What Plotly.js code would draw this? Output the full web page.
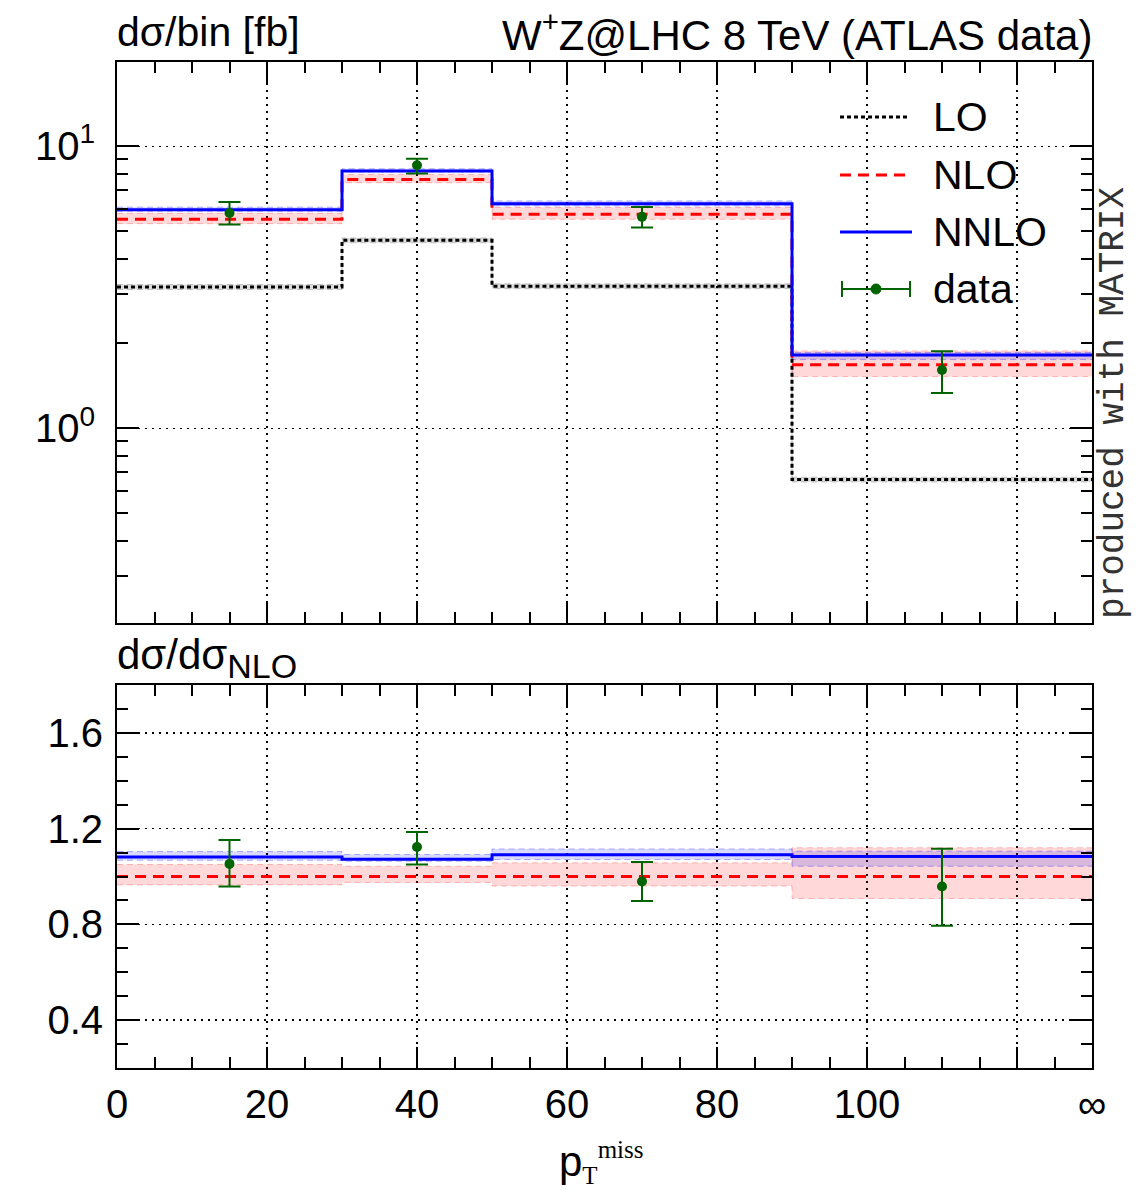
<!DOCTYPE html>
<html>
<head>
<meta charset="utf-8">
<script src="https://cdn.plot.ly/plotly-3.0.1.min.js"></script>
<style>html,body{margin:0;padding:0;background:#fff;}</style>
</head>
<body>
<div id="chart" style="width:1140px;height:1200px;"></div>
<script>
// ---------- data ----------
const binEdges = [0, 30, 50, 90, 130];          // last edge drawn as "infinity"
const xTickVals = [0, 20, 40, 60, 80, 100, 120, 130];
const xTickText = ['0', '20', '40', '60', '80', '100', '', '\u221E'];

const LO   = [3.17, 4.64, 3.19, 0.658];
const NLO  = [5.51, 7.62, 5.74, 1.68];
const NNLO = [5.96, 8.17, 6.26, 1.82];

// scale-uncertainty bands, relative to NLO central value
const loBandLo   = [0.98, 0.98, 0.98, 0.98];
const loBandHi   = [1.02, 1.02, 1.02, 1.02];
const nloBandLo  = [0.965, 0.975, 0.960, 0.908];
const nloBandHi  = [1.050, 1.043, 1.057, 1.120];
const nnloBandLo = [1.068, 1.064, 1.071, 1.043];
const nnloBandHi = [1.104, 1.092, 1.115, 1.106];

const dataX  = [15, 40, 70, 110];
const dataY  = [5.80, 8.56, 5.62, 1.61];
const dataHi = [6.35, 9.04, 6.09, 1.875];
const dataLo = [5.28, 8.00, 5.15, 1.334];

// ---------- helpers ----------
const step = v => v.concat([v[v.length - 1]]);
const mul = (a, b) => a.map((x, i) => x * b[i]);
const div = (a, b) => a.map((x, i) => x / b[i]);

const RED = 'rgb(255,0,0)', BLUE = 'rgb(0,0,255)', GREEN = 'rgb(0,100,0)';
const redFill = 'rgba(255,0,0,0.15)', blueFill = 'rgba(0,0,255,0.15)', grayFill = 'rgba(0,0,0,0.13)';

function band(lo, hi, xa, ya, fill, edge) {
  return [
    {x: binEdges, y: step(lo), xaxis: xa, yaxis: ya, mode: 'lines', line: {shape: 'hv', width: 1, color: edge, dash: '6px,4px'}, hoverinfo: 'skip', showlegend: false},
    {x: binEdges, y: step(hi), xaxis: xa, yaxis: ya, mode: 'lines', fill: 'tonexty', fillcolor: fill, line: {shape: 'hv', width: 1, color: edge, dash: '6px,4px'}, hoverinfo: 'skip', showlegend: false}
  ];
}
function stepLine(v, xa, ya, color, dash, width) {
  return {x: binEdges, y: step(v), xaxis: xa, yaxis: ya, mode: 'lines', line: {shape: 'hv', color: color, dash: dash, width: width}, showlegend: false};
}
function dataTrace(y, hi, lo, xa, ya) {
  return {x: dataX, y: y, xaxis: xa, yaxis: ya, mode: 'markers', showlegend: false,
    marker: {color: GREEN, size: 10},
    error_y: {type: 'data', symmetric: false, array: hi.map((h, i) => h - y[i]), arrayminus: lo.map((l, i) => y[i] - l), color: GREEN, thickness: 2, width: 11}};
}

// top panel
const edgeRed = 'rgba(255,0,0,0.25)', edgeBlue = 'rgba(0,0,255,0.3)', edgeGray = 'rgba(0,0,0,0.2)';
let traces = [];
traces = traces.concat(band(mul(LO, loBandLo), mul(LO, loBandHi), 'x', 'y', grayFill, edgeGray));
traces = traces.concat(band(mul(NLO, nloBandLo), mul(NLO, nloBandHi), 'x', 'y', redFill, edgeRed));
traces = traces.concat(band(mul(NLO, nnloBandLo), mul(NLO, nnloBandHi), 'x', 'y', blueFill, edgeBlue));
traces.push(stepLine(LO, 'x', 'y', 'black', '4px,3px', 3));
traces.push(stepLine(NLO, 'x', 'y', RED, '11px,7px', 3));
traces.push(stepLine(NNLO, 'x', 'y', BLUE, 'solid', 3));
traces.push(dataTrace(dataY, dataHi, dataLo, 'x', 'y'));

// ratio panel
traces = traces.concat(band(nloBandLo, nloBandHi, 'x2', 'y2', redFill, edgeRed));
traces = traces.concat(band(nnloBandLo, nnloBandHi, 'x2', 'y2', blueFill, edgeBlue));
traces.push(stepLine(div(NLO, NLO), 'x2', 'y2', RED, '11px,7px', 3));
traces.push(stepLine(div(NNLO, NLO), 'x2', 'y2', BLUE, 'solid', 3));
traces.push(dataTrace(div(dataY, NLO), div(dataHi, NLO), div(dataLo, NLO), 'x2', 'y2'));

// ---------- layout ----------
const W = 1140, H = 1200, L = 117, R = 48, T = 62, B = 132;
const plotW = W - L - R, plotH = H - T - B;
const px = x => (x - L) / plotW;
const py = y => (H - B - y) / plotH;

const GRIDDASH = '2px,5px';
const xMinor = [5, 10, 15, 25, 30, 35, 45, 50, 55, 65, 70, 75, 85, 90, 95, 105, 110, 115, 125];
const xBase = {
  range: [0, 130], tickmode: 'array', tickvals: xTickVals, ticks: 'inside', ticklen: 21, tickwidth: 2, tickcolor: 'black',
  showline: true, linewidth: 2, linecolor: 'black', mirror: 'ticks', zeroline: false,
  showgrid: true, gridcolor: 'black', griddash: GRIDDASH, gridwidth: 1.5,
  minor: {tickmode: 'array', tickvals: xMinor, ticks: 'inside', ticklen: 11, tickwidth: 2, tickcolor: 'black', showgrid: false}
};

const layout = {
  width: W, height: H,
  margin: {l: L, r: R, t: T, b: B},
  paper_bgcolor: 'white', plot_bgcolor: 'white',
  font: {family: 'Liberation Sans, Arial, sans-serif', size: 40, color: 'black'},
  showlegend: false,
  xaxis: Object.assign({}, xBase, {domain: [0, 1], anchor: 'y', showticklabels: false}),
  xaxis2: Object.assign({}, xBase, {domain: [0, 1], anchor: 'y2', showticklabels: true, ticktext: xTickText, tickfont: {size: 40}}),
  yaxis: {
    domain: [py(623), 1], anchor: 'x', type: 'log', range: [Math.log10(0.204), Math.log10(19.9)],
    tickmode: 'array', tickvals: [1, 10], ticktext: ['10<sup>0</sup>', '10<sup>1</sup>'], tickfont: {size: 40},
    ticklabelstandoff: 12,
    ticks: 'inside', ticklen: 22, tickwidth: 2, tickcolor: 'black',
    showline: true, linewidth: 2, linecolor: 'black', mirror: 'ticks', zeroline: false,
    showgrid: true, gridcolor: 'black', griddash: GRIDDASH, gridwidth: 1.5,
    minor: {tickmode: 'array', tickvals: [0.3, 0.4, 0.5, 0.6, 0.7, 0.8, 0.9, 2, 3, 4, 5, 6, 7, 8, 9], ticks: 'inside', ticklen: 11, tickwidth: 2, tickcolor: 'black', showgrid: false}
  },
  yaxis2: {
    domain: [0, py(685)], anchor: 'x2', range: [0.2, 1.8],
    tickmode: 'array', tickvals: [0.4, 0.8, 1.2, 1.6], ticktext: ['0.4', '0.8', '1.2', '1.6'], tickfont: {size: 40},
    ticklabelstandoff: 4,
    ticks: 'inside', ticklen: 22, tickwidth: 2, tickcolor: 'black',
    showline: true, linewidth: 2, linecolor: 'black', mirror: 'ticks', zeroline: false,
    showgrid: true, gridcolor: 'black', griddash: GRIDDASH, gridwidth: 1.5,
    minor: {tickmode: 'array', tickvals: [0.3, 0.5, 0.6, 0.7, 0.9, 1.0, 1.1, 1.3, 1.4, 1.5, 1.7], ticks: 'inside', ticklen: 11, tickwidth: 2, tickcolor: 'black', showgrid: false}
  },
  annotations: [
    {xref: 'paper', yref: 'paper', x: px(115), y: py(32), xanchor: 'left', yanchor: 'middle', showarrow: false, text: 'd\u03C3/bin [fb]', font: {size: 41}},
    {xref: 'paper', yref: 'paper', x: px(1094), y: py(32), xanchor: 'right', yanchor: 'middle', showarrow: false, text: 'W<sup>+</sup>Z@LHC 8 TeV (ATLAS data)', font: {size: 42}},
    {xref: 'paper', yref: 'paper', x: px(115), y: py(658), xanchor: 'left', yanchor: 'middle', showarrow: false,
     text: 'd\u03C3/d\u03C3<sub><span style="font-size:34px">NLO</span></sub>', font: {size: 42}},
    {xref: 'paper', yref: 'paper', x: px(601), y: py(1162), xanchor: 'center', yanchor: 'middle', showarrow: false,
     text: 'p<sub><span style="font-family:Liberation Serif;font-size:25px">T</span></sub><sup><span style="font-family:Liberation Serif;font-size:25px">miss</span></sup>', font: {size: 42}},
    {xref: 'paper', yref: 'paper', x: px(1113), y: py(403), xanchor: 'center', yanchor: 'middle', showarrow: false, textangle: -90,
     text: 'produced with MATRIX', font: {family: 'Liberation Mono, monospace', size: 36, color: '#333'}},
    // legend labels
    {xref: 'paper', yref: 'paper', x: px(931), y: py(117), xanchor: 'left', yanchor: 'middle', showarrow: false, text: 'LO', font: {size: 41}},
    {xref: 'paper', yref: 'paper', x: px(931), y: py(175), xanchor: 'left', yanchor: 'middle', showarrow: false, text: 'NLO', font: {size: 41}},
    {xref: 'paper', yref: 'paper', x: px(931), y: py(232), xanchor: 'left', yanchor: 'middle', showarrow: false, text: 'NNLO', font: {size: 41}},
    {xref: 'paper', yref: 'paper', x: px(931), y: py(289), xanchor: 'left', yanchor: 'middle', showarrow: false, text: 'data', font: {size: 41}}
  ],
  shapes: [
    // legend samples
    {type: 'line', xref: 'paper', yref: 'paper', x0: px(840), x1: px(908), y0: py(117), y1: py(117), line: {color: 'black', width: 3, dash: '4px,3px'}},
    {type: 'line', xref: 'paper', yref: 'paper', x0: px(840), x1: px(912), y0: py(175), y1: py(175), line: {color: RED, width: 3, dash: '11px,7px'}},
    {type: 'line', xref: 'paper', yref: 'paper', x0: px(840), x1: px(912), y0: py(232), y1: py(232), line: {color: BLUE, width: 3}},
    {type: 'line', xref: 'paper', yref: 'paper', x0: px(842), x1: px(910), y0: py(289), y1: py(289), line: {color: GREEN, width: 2}},
    {type: 'line', xref: 'paper', yref: 'paper', x0: px(842), x1: px(842), y0: py(281), y1: py(297), line: {color: GREEN, width: 2}},
    {type: 'line', xref: 'paper', yref: 'paper', x0: px(910), x1: px(910), y0: py(281), y1: py(297), line: {color: GREEN, width: 2}},
    {type: 'circle', xref: 'paper', yref: 'paper', x0: px(871), x1: px(881), y0: py(294), y1: py(284), fillcolor: GREEN, line: {color: GREEN, width: 1}}
  ]
};

Plotly.newPlot('chart', traces, layout, {staticPlot: true, displayModeBar: false});
</script>
</body>
</html>
